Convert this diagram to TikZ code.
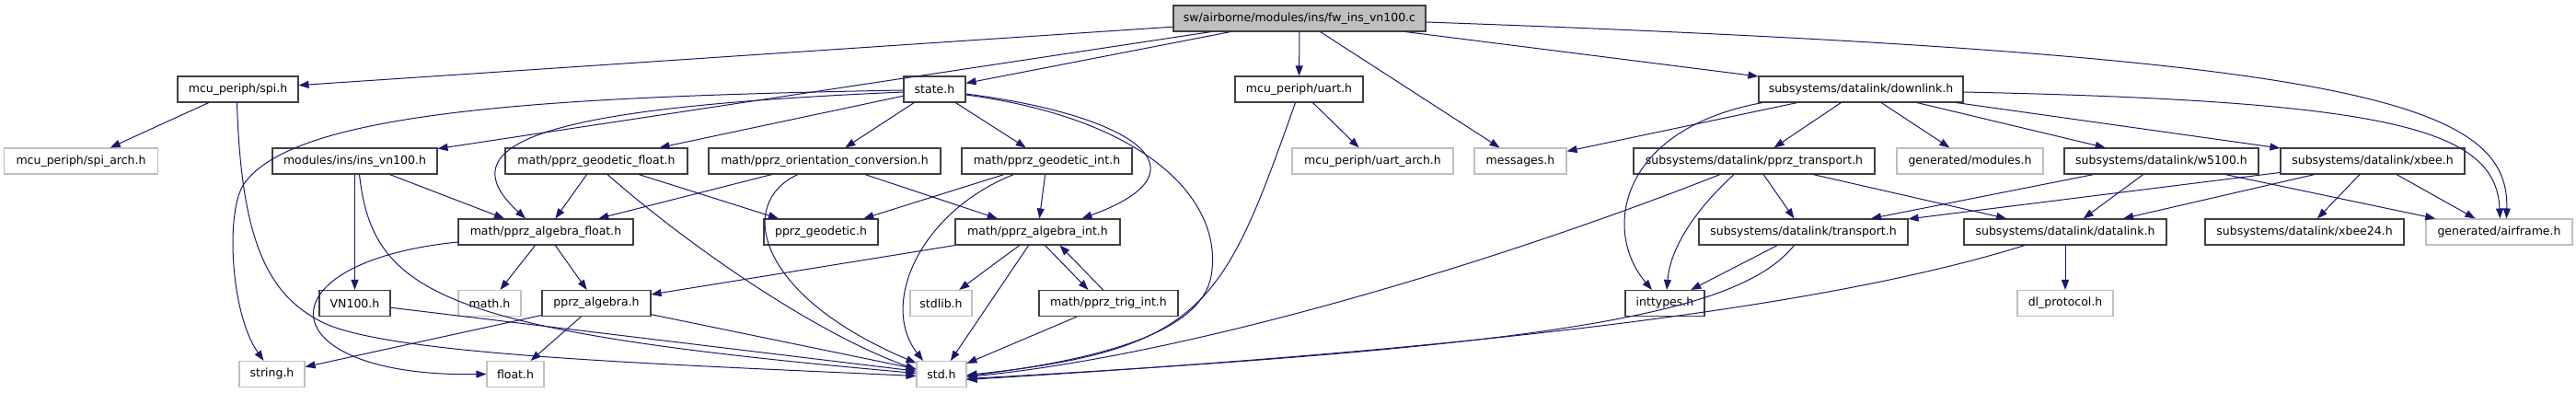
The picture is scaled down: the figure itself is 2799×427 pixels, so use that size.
\documentclass[tikz,border=0pt]{standalone}
\usepackage{fontspec}
\setmainfont{DejaVu Sans}
\usetikzlibrary{arrows.meta}
\definecolor{edgec}{HTML}{191970}
\definecolor{nodeb}{HTML}{404040}
\definecolor{grayb}{HTML}{BFBFBF}
\tikzset{
  box/.style={draw=nodeb, line width=1.1pt, fill=white, minimum height=28pt, inner sep=0pt, font=\fontsize{12.5}{15}\selectfont},
  ext/.style={box, draw=grayb},
  mainbox/.style={box, fill=grayb},
  dep/.style={draw=edgec, line width=1pt, -{Triangle[length=11pt,width=8pt]}}
}
\begin{document}
\begin{tikzpicture}[x=1pt,y=-1pt]
\useasboundingbox (0,0) rectangle (2799,427);
% row 1
\node[mainbox, minimum width=274pt] (main) at (1412,20) {sw/airborne/modules/ins/fw\_ins\_vn100.c};
% row 2
\node[box, minimum width=131pt] (spi) at (258.5,97) {mcu\_periph/spi.h};
\node[box, minimum width=67pt] (state) at (1015.5,97) {state.h};
\node[box, minimum width=139pt] (uart) at (1411.5,97) {mcu\_periph/uart.h};
\node[box, minimum width=222pt] (dlink) at (2022,97) {subsystems/datalink/downlink.h};
% row 3
\node[ext, minimum width=167pt] (spiarch) at (88,175) {mcu\_periph/spi\_arch.h};
\node[box, minimum width=179pt] (insvn) at (385.5,175) {modules/ins/ins\_vn100.h};
\node[box, minimum width=198pt] (geof) at (648,175) {math/pprz\_geodetic\_float.h};
\node[box, minimum width=252pt] (orient) at (896,175) {math/pprz\_orientation\_conversion.h};
\node[box, minimum width=185pt] (geoi) at (1137.5,175) {math/pprz\_geodetic\_int.h};
\node[ext, minimum width=175pt] (uartarch) at (1491.5,175) {mcu\_periph/uart\_arch.h};
\node[ext, minimum width=100pt] (msgs) at (1652,175) {messages.h};
\node[box, minimum width=262pt] (ptrans) at (1906,175) {subsystems/datalink/pprz\_transport.h};
\node[ext, minimum width=159pt] (genmod) at (2140.5,175) {generated/modules.h};
\node[box, minimum width=211pt] (w5100) at (2348.5,175) {subsystems/datalink/w5100.h};
\node[box, minimum width=200pt] (xbee) at (2578,175) {subsystems/datalink/xbee.h};
% row 4
\node[box, minimum width=190pt] (algf) at (593,252) {math/pprz\_algebra\_float.h};
\node[box, minimum width=124pt] (pgeo) at (892,252) {pprz\_geodetic.h};
\node[box, minimum width=179pt] (algi) at (1127.5,252) {math/pprz\_algebra\_int.h};
\node[box, minimum width=227pt] (trans) at (1959.5,252) {subsystems/datalink/transport.h};
\node[box, minimum width=220pt] (dlk) at (2244,252) {subsystems/datalink/datalink.h};
\node[box, minimum width=216pt] (xbee24) at (2504,252) {subsystems/datalink/xbee24.h};
\node[ext, minimum width=159pt] (airframe) at (2715.5,252) {generated/airframe.h};
% row 5
\node[box, minimum width=77pt] (vn100) at (385.5,329.5) {VN100.h};
\node[ext, minimum width=68pt] (mathh) at (532,329.5) {math.h};
\node[box, minimum width=118pt] (palg) at (648,329.5) {pprz\_algebra.h};
\node[ext, minimum width=67pt] (stdlib) at (1022.5,329.5) {stdlib.h};
\node[box, minimum width=151pt] (trig) at (1204.5,329.5) {math/pprz\_trig\_int.h};
\node[box, minimum width=86pt] (inttypes) at (1809,329.5) {inttypes.h};
\node[ext, minimum width=104pt] (dlproto) at (2244,329.5) {dl\_protocol.h};
% row 6
\node[ext, minimum width=71pt] (stringh) at (295.5,406.5) {string.h};
\node[ext, minimum width=62pt] (floath) at (560,406.5) {float.h};
\node[ext, minimum width=54pt] (stdh) at (1023,406.5) {std.h};

% main
\draw[dep] (main) -- (spi);
\draw[dep] (main) -- (state);
\draw[dep] (main) -- (insvn);
\draw[dep] (main) -- (uart);
\draw[dep] (main) -- (msgs);
\draw[dep] (main) -- (dlink);
\draw[dep] ([yshift=-4pt]main.east) .. controls (2560,60) and (2727,110) .. ([xshift=8pt]airframe.north);
% spi
\draw[dep] (spi) -- (spiarch);
\draw[dep] ([xshift=-1pt]spi.south) .. controls (262,260) and (290,320) .. (350,350) .. controls (420,385) and (700,395) .. ([yshift=-2pt]stdh.west);
% state
\draw[dep] ([yshift=-1pt]state.west) .. controls (600,105) and (320,120) .. (265,200) .. controls (245,229) and (250,340) .. ([xshift=-9pt]stringh.north);
\draw[dep] ([yshift=-3pt]state.west) .. controls (640,115) and (470,145) .. ([xshift=-22pt]algf.north);
\draw[dep] (state) -- (geof);
\draw[dep] (state) -- (orient);
\draw[dep] (state) -- (geoi);
\draw[dep] ([yshift=-5pt]state.east) .. controls (1230,125) and (1320,185) .. ([xshift=48pt]algi.north);
\draw[dep] ([yshift=-6pt]state.east) .. controls (1250,130) and (1330,220) .. (1316,300) .. controls (1305,360) and (1200,390) .. ([yshift=-2pt]stdh.east);
% ins_vn100
\draw[dep] (insvn) -- ([xshift=-45pt]algf.north);
\draw[dep] (insvn) -- (vn100);
\draw[dep] ([xshift=5pt]insvn.south) .. controls (405,320) and (480,360) .. ([yshift=1pt]stdh.west);
% geodetic float
\draw[dep] (geof) -- (algf);
\draw[dep] (geof) -- (pgeo);
\draw[dep] ([xshift=12pt]geof.south) .. controls (740,260) and (880,360) .. ([yshift=5pt]stdh.west);
% orientation conversion
\draw[dep] (orient) -- (algf);
\draw[dep] (orient) -- (algi);
\draw[dep] ([xshift=-29pt]orient.south) .. controls (800,220) and (820,320) .. ([yshift=12pt]stdh.west);
% geodetic int
\draw[dep] (geoi) -- (pgeo);
\draw[dep] (geoi) -- (algi);
\draw[dep] ([xshift=-36pt]geoi.south) .. controls (1000,230) and (955,330) .. ([xshift=-20pt]stdh.north);
% algebra float
\draw[dep] (algf) -- (mathh);
\draw[dep] (algf) -- (palg);
\draw[dep] ([yshift=-11pt]algf.west) .. controls (280,285) and (290,410) .. (floath.west);
% pprz_algebra
\draw[dep] (palg) -- (stringh);
\draw[dep] (palg) -- (floath);
\draw[dep] (palg) -- (stdh);
% VN100
\draw[dep] (vn100) -- (stdh);
% algebra int
\draw[dep] (algi) -- (palg);
\draw[dep] (algi) -- (stdlib);
\draw[dep] (algi) -- (stdh);
\draw[dep] ([xshift=8pt]algi.south) -- ([xshift=-22pt]trig.north);
\draw[dep] ([xshift=-6pt]trig.north) -- ([xshift=24pt]algi.south);
\draw[dep] (trig) -- (stdh);
% uart
\draw[dep] (uart) -- (uartarch);
\draw[dep] ([xshift=-4pt]uart.south) .. controls (1330,330) and (1310,380) .. ([yshift=-1pt]stdh.east);
% downlink
\draw[dep] (dlink) -- (msgs);
\draw[dep] ([xshift=-107pt]dlink.south) .. controls (1760,140) and (1740,250) .. ([xshift=-14pt]inttypes.north);
\draw[dep] (dlink) -- (ptrans);
\draw[dep] (dlink) -- (genmod);
\draw[dep] (dlink) -- (w5100);
\draw[dep] (dlink) -- (xbee);
\draw[dep] ([yshift=-3pt]dlink.east) .. controls (2600,110) and (2712,140) .. ([xshift=1pt]airframe.north);
% pprz_transport
\draw[dep] ([xshift=-22pt]ptrans.south) .. controls (1840,230) and (1815,270) .. ([xshift=2pt]inttypes.north);
\draw[dep] (ptrans) -- (trans);
\draw[dep] (ptrans) -- (dlk);
\draw[dep] ([xshift=-37pt]ptrans.south) .. controls (1640,280) and (1300,385) .. ([yshift=-3pt]stdh.east);
% transport
\draw[dep] (trans) -- (inttypes);
\draw[dep] ([xshift=-10pt]trans.south) .. controls (1890,340) and (1700,375) .. ([yshift=-5pt]stdh.east);
% datalink
\draw[dep] (dlk) -- (dlproto);
\draw[dep] ([xshift=-44pt]dlk.south) .. controls (1950,345) and (1500,385) .. ([yshift=-6pt]stdh.east);
% w5100
\draw[dep] (w5100) -- (trans);
\draw[dep] (w5100) -- (dlk);
\draw[dep] (w5100) -- (airframe);
% xbee
\draw[dep] (xbee) -- (trans);
\draw[dep] (xbee) -- (dlk);
\draw[dep] (xbee) -- (xbee24);
\draw[dep] (xbee) -- (airframe);
\end{tikzpicture}
\end{document}
